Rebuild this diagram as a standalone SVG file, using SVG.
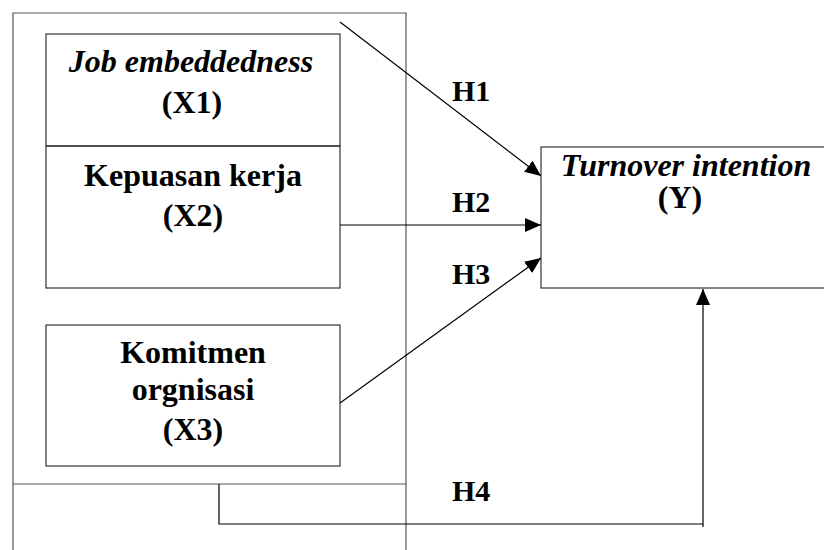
<svg xmlns="http://www.w3.org/2000/svg" width="824" height="550" viewBox="0 0 824 550">
<style>
.frame{fill:none;stroke:#555;stroke-width:1.2}
.box{fill:none;stroke:#333;stroke-width:1.2}
.conn{fill:none;stroke:#000;stroke-width:1.2}
text{font-family:'Liberation Serif','Times New Roman','DejaVu Serif',serif;font-weight:bold;fill:#000}
.t{font-size:32px;text-anchor:middle}
.i{font-style:italic}
.h{font-size:30px}
</style>
<defs>
<marker id="arr" viewBox="0 0 16 14" refX="16" refY="7" markerWidth="16" markerHeight="14" markerUnits="userSpaceOnUse" orient="auto">
<path d="M0,0 L16,7 L0,14 Z" fill="#000"/>
</marker>
</defs>
<rect width="824" height="550" fill="#fff"/>
<g id="frame">
<path class="frame" d="M13,551 V13 H406 V551"/>
<line class="frame" x1="13" y1="484" x2="406" y2="484"/>
</g>
<g id="x1">
<rect class="box" x="46" y="34" width="294" height="112"/>
<text class="t i" x="191" y="72">Job embeddedness</text>
<text class="t" x="192" y="113">(X1)</text>
</g>
<g id="x2">
<rect class="box" x="46" y="146" width="294" height="142"/>
<text class="t" x="193" y="186">Kepuasan kerja</text>
<text class="t" x="193" y="226">(X2)</text>
</g>
<g id="x3">
<rect class="box" x="46" y="325" width="294" height="141"/>
<text class="t" x="193" y="363">Komitmen</text>
<text class="t" x="193" y="400">orgnisasi</text>
<text class="t" x="193" y="440">(X3)</text>
</g>
<g id="y">
<rect class="box" x="541" y="147" width="300" height="141"/>
<text class="t i" x="686" y="176">Turnover intention</text>
<text class="t" x="680" y="208">(Y)</text>
</g>
<g id="connectors">
<line class="conn" x1="340" y1="22" x2="541" y2="176" marker-end="url(#arr)"/>
<line class="conn" x1="340" y1="225" x2="541" y2="225" marker-end="url(#arr)"/>
<line class="conn" x1="340" y1="403" x2="541" y2="258" marker-end="url(#arr)"/>
<polyline class="conn" points="219,484 219,524 703,524"/>
<line class="conn" x1="703" y1="527" x2="703" y2="289" marker-end="url(#arr)"/>
<text class="h" x="452" y="101">H1</text>
<text class="h" x="452" y="212">H2</text>
<text class="h" x="452" y="284">H3</text>
<text class="h" x="452" y="501">H4</text>
</g>
</svg>
